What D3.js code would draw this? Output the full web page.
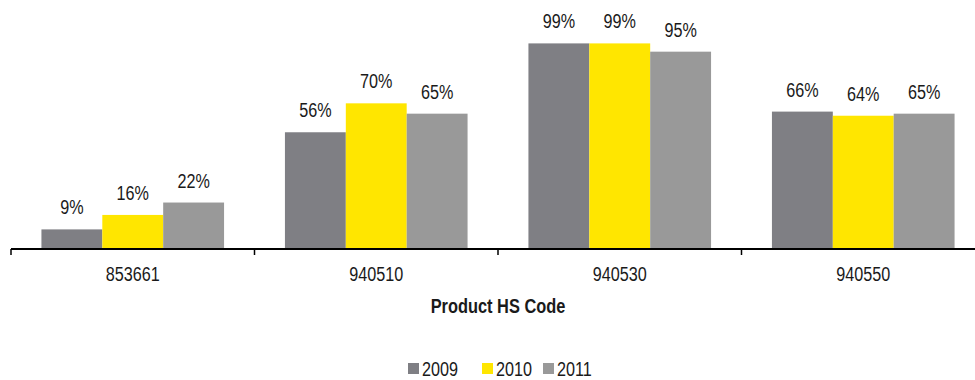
<!DOCTYPE html>
<html>
<head>
<meta charset="utf-8">
<script src="https://cdn.jsdelivr.net/npm/d3@7"></script>
<style>
  html, body { margin: 0; padding: 0; background: #fff; }
  svg { display: block; font-family: "Liberation Sans", Arial, sans-serif; }
</style>
</head>
<body>
<svg id="chart" width="975" height="380"></svg>
<script>
// Share of imports by product code, per year
const categories = ["853661", "940510", "940530", "940550"];
const years = ["2009", "2010", "2011"];
const values2009 = [9, 56, 99, 66];
const values2010 = [16, 70, 99, 64];
const values2011 = [22, 65, 95, 65];
const seriesValues = [values2009, values2010, values2011];
const colors = ["#7f7f84", "#ffe600", "#999999"];
const xTitle = "Product HS Code";

const svg = d3.select("#chart");
const W = 975;
const baseY = 248;
const NARROW = 0.81; // horizontal squeeze for a condensed look

const x0 = d3.scaleBand().domain(categories).range([11, 985]).paddingInner(0).paddingOuter(0);
const gap = x0.bandwidth() * 0.125;
const x1 = d3.scaleBand().domain(years).range([gap, x0.bandwidth() - gap]).padding(0);
const y = d3.scaleLinear().domain([0, 120]).range([baseY, 0]);

const rows = categories.map((c, i) => ({
  cat: c,
  vals: years.map((yr, j) => ({ year: yr, v: seriesValues[j][i], color: colors[j] }))
}));

const groups = svg.append("g").selectAll("g").data(rows).join("g")
  .attr("transform", d => `translate(${x0(d.cat)},0)`);

groups.selectAll("rect").data(d => d.vals).join("rect")
  .attr("x", d => x1(d.year))
  .attr("y", d => y(d.v))
  .attr("width", x1.bandwidth())
  .attr("height", d => y(0) - y(d.v))
  .attr("fill", d => d.color);

groups.selectAll("text").data(d => d.vals).join("text")
  .attr("transform", d => `translate(${x1(d.year) + x1.bandwidth() / 2},${y(d.v) - 15}) scale(${NARROW},1)`)
  .attr("text-anchor", "middle")
  .attr("font-size", 20)
  .attr("fill", "#1a1a1a")
  .text(d => d.v + "%");

// category axis
const axis = svg.append("g").attr("transform", `translate(0,${baseY + 1})`);
axis.append("line")
  .attr("x1", 11).attr("x2", W)
  .attr("stroke", "#000").attr("stroke-width", 2);
axis.selectAll(".tick").data(categories).join("line")
  .attr("x1", d => x0(d)).attr("x2", d => x0(d))
  .attr("y1", 0).attr("y2", 6)
  .attr("stroke", "#000").attr("stroke-width", 1.5);
axis.selectAll("text").data(categories).join("text")
  .attr("transform", d => `translate(${x0(d) + x0.bandwidth() / 2},32) scale(${NARROW},1)`)
  .attr("text-anchor", "middle")
  .attr("font-size", 20)
  .attr("fill", "#1a1a1a")
  .text(d => d);

svg.append("text")
  .attr("transform", `translate(498,313) scale(0.82,1)`)
  .attr("text-anchor", "middle")
  .attr("font-size", 20)
  .attr("font-weight", "bold")
  .attr("fill", "#1a1a1a")
  .text(xTitle);

// legend
const legendX = [408, 482, 543];
const legend = svg.append("g").selectAll("g").data(years).join("g")
  .attr("transform", (d, i) => `translate(${legendX[i]},363)`);
legend.append("rect").attr("width", 11).attr("height", 11).attr("fill", (d, i) => colors[i]);
legend.append("text")
  .attr("transform", `translate(14,13) scale(${NARROW},1)`)
  .attr("font-size", 20)
  .attr("fill", "#1a1a1a")
  .text(d => d);
</script>
</body>
</html>
